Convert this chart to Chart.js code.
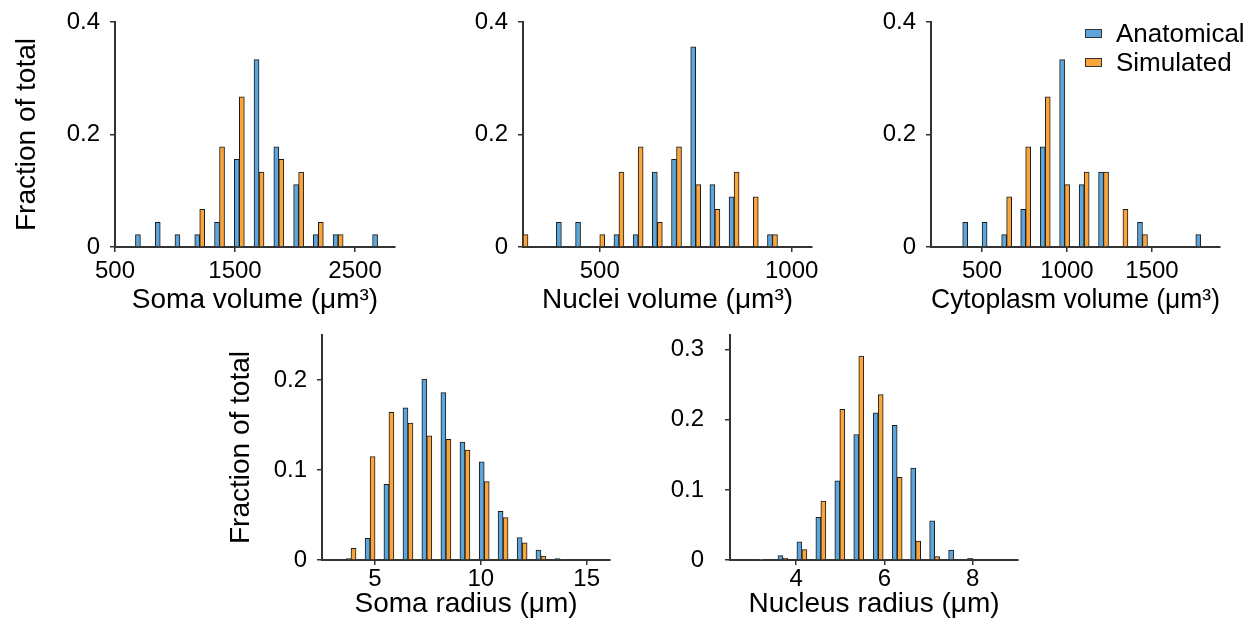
<!DOCTYPE html>
<html>
<head>
<meta charset="utf-8">
<script src="https://cdn.jsdelivr.net/npm/chart.js@4.4.1/dist/chart.umd.min.js"></script>
<style>
body { margin: 0; background: #fff; }
#wrap { position: relative; width: 1257px; height: 621px; overflow: hidden; font-family: "Liberation Sans", Arial, sans-serif; }
canvas { position: absolute; }
.lg { position: absolute; left: 1085px; height: 30px; display: flex; align-items: center; font-size: 26px; color: #000; white-space: nowrap; }
.lg span.box { display: inline-block; width: 15px; height: 7px; border: 1px solid #333; margin-right: 14px; }
</style>
</head>
<body>
<div id="wrap">
  <canvas id="c1"></canvas>
  <canvas id="c2"></canvas>
  <canvas id="c3"></canvas>
  <canvas id="c4"></canvas>
  <canvas id="c5"></canvas>
  <div id="legend"></div>
</div>
<script>
// series names
var seriesNames = ['Anatomical', 'Simulated'];

// soma volume
var somaVolBins   = [712, 877, 1041, 1206, 1371, 1536, 1700, 1865, 2030, 2194, 2359, 2688];
var somaVolAnat   = [0.022, 0.044, 0.022, 0.022, 0.044, 0.156, 0.333, 0.178, 0.111, 0.022, 0.022, 0.022];
var somaVolSim    = [0, 0, 0, 0.067, 0.178, 0.267, 0.133, 0.156, 0.133, 0.044, 0.022, 0];
var somaVolTicks  = [500, 1500, 2500];
var somaVolLabels = ['500', '1500', '2500'];

// nuclei volume
var nucVolBins   = [300, 400, 450, 500, 550, 600, 650, 700, 750, 800, 850, 900, 950];
var nucVolAnat   = [0, 0.044, 0.044, 0, 0.022, 0.022, 0.133, 0.156, 0.356, 0.111, 0.089, 0, 0.022];
var nucVolSim    = [0.022, 0, 0, 0.022, 0.133, 0.178, 0.044, 0.178, 0.111, 0.067, 0.133, 0.089, 0.022];
var nucVolTicks  = [500, 1000];
var nucVolLabels = ['500', '1000'];

// cytoplasm volume
var cytVolBins   = [416, 530, 645, 757, 872, 986, 1101, 1215, 1329, 1444, 1787];
var cytVolAnat   = [0.044, 0.044, 0.022, 0.067, 0.178, 0.333, 0.111, 0.133, 0, 0.044, 0.022];
var cytVolSim    = [0, 0, 0.089, 0.178, 0.267, 0.111, 0.133, 0.133, 0.067, 0.022, 0];
var cytVolTicks  = [500, 1000, 1500];
var cytVolLabels = ['500', '1000', '1500'];

var volYTicks  = [0, 0.2, 0.4];
var volYLabels = ['0', '0.2', '0.4'];

// soma radius
var somaRadBins   = [3.87, 4.77, 5.66, 6.56, 7.45, 8.35, 9.25, 10.16, 11.05, 11.95, 12.84, 13.74];
var somaRadAnat   = [0.0015, 0.024, 0.084, 0.169, 0.201, 0.186, 0.131, 0.109, 0.054, 0.025, 0.011, 0.0015];
var somaRadSim    = [0.013, 0.115, 0.164, 0.152, 0.138, 0.134, 0.122, 0.087, 0.047, 0.019, 0.0044, 0.0008];
var somaRadTicks  = [5, 10, 15];
var somaRadLabels = ['5', '10', '15'];
var somaRadYTicks  = [0, 0.1, 0.2];
var somaRadYLabels = ['0', '0.1', '0.2'];

// nucleus radius
var nucRadBins   = [3.27, 3.70, 4.13, 4.56, 4.99, 5.42, 5.86, 6.29, 6.71, 7.14, 7.57, 8.0];
var nucRadAnat   = [0.0005, 0.0062, 0.026, 0.061, 0.113, 0.179, 0.210, 0.192, 0.131, 0.056, 0.014, 0.0024];
var nucRadSim    = [0, 0.0024, 0.0148, 0.084, 0.215, 0.291, 0.236, 0.118, 0.027, 0.0048, 0, 0];
var nucRadTicks  = [4, 6, 8];
var nucRadLabels = ['4', '6', '8'];
var nucRadYTicks  = [0, 0.1, 0.2, 0.3];
var nucRadYLabels = ['0', '0.1', '0.2', '0.3'];

var BLUE = '#5DA5DA', ORANGE = '#FAA43A', EDGE = '#1a1a1a', AX = '#333333';
var FONT = '"Liberation Sans", Arial, Helvetica, sans-serif';

function histo(id, p) {
  var cv = document.getElementById(id);
  var padR = p.padR || 15;
  cv.width = 115 + (p.right - p.left) + padR;
  cv.height = p.h;
  cv.style.left = (p.left - 115) + 'px';
  cv.style.top = p.top + 'px';
  var axisH = p.h - 22 - 225;
  function pts(ys) { return p.bins.map(function (b, i) { return {x: b, y: ys[i]}; }); }

  new Chart(cv, {
    type: 'bar',
    data: {
      datasets: [
        {label: seriesNames[0], data: pts(p.anat), backgroundColor: BLUE, borderColor: EDGE, borderWidth: 1, barThickness: 5},
        {label: seriesNames[1], data: pts(p.sim), backgroundColor: ORANGE, borderColor: EDGE, borderWidth: 1, barThickness: 5}
      ]
    },
    options: {
      responsive: false,
      animation: false,
      devicePixelRatio: 1,
      layout: {padding: {left: 0, top: 22, right: padR, bottom: 0}},
      plugins: {legend: {display: false}, tooltip: {enabled: false}},
      scales: {
        x: {
          type: 'linear', min: p.xMin, max: p.xMax, offset: false,
          grid: {offset: false, drawOnChartArea: false, tickLength: 5, color: AX, lineWidth: 1.5},
          border: {color: AX, width: 2},
          afterBuildTicks: function (s) { s.ticks = p.xTicks.map(function (v) { return {value: v}; }); },
          ticks: {
            font: {family: FONT, size: 24}, color: '#000', padding: p.xPad, maxRotation: 0, autoSkip: false,
            callback: function (v) { return p.xLabels[p.xTicks.indexOf(v)]; }
          },
          title: {display: true, text: p.xTitle, color: '#000', font: {family: FONT, size: 28}, padding: {top: 0, bottom: p.xtPad}},
          afterFit: function (s) { s.height = axisH; s.paddingLeft = 0; s.paddingRight = 0; }
        },
        y: {
          min: 0, max: p.yMax,
          grid: {drawOnChartArea: false, tickLength: 5, color: AX, lineWidth: 1.5},
          border: {color: AX, width: 2},
          afterBuildTicks: function (s) { s.ticks = p.yTicks.map(function (v) { return {value: v}; }); },
          ticks: {
            font: {family: FONT, size: 24}, color: '#000', padding: p.yPad,
            callback: function (v) { return p.yLabels[p.yTicks.indexOf(v)]; }
          },
          title: {display: !!p.yTitle, text: p.yTitle || '', color: '#000', font: {family: FONT, size: 28}, padding: {top: p.ytPad || 0, bottom: 0}},
          afterFit: function (s) { s.width = 115; s.paddingTop = 0; s.paddingBottom = 0; }
        }
      }
    }
  });
}

histo('c1', {left: 115, right: 395, top: 0, h: 320, padR: 5,
  bins: somaVolBins, anat: somaVolAnat, sim: somaVolSim, xMin: 500, xMax: 2833,
  xTicks: somaVolTicks, xLabels: somaVolLabels, yMax: 0.4, yTicks: volYTicks, yLabels: volYLabels,
  xTitle: 'Soma volume (μm³)', yTitle: 'Fraction of total', xPad: 5, xtPad: 3, yPad: 10, ytPad: 10});

histo('c2', {left: 523, right: 812, top: 0, h: 320, padR: 15,
  bins: nucVolBins, anat: nucVolAnat, sim: nucVolSim, xMin: 300, xMax: 1053,
  xTicks: nucVolTicks, xLabels: nucVolLabels, yMax: 0.4, yTicks: volYTicks, yLabels: volYLabels,
  xTitle: 'Nuclei volume (μm³)', xPad: 5, xtPad: 3, yPad: 10});

histo('c3', {left: 931, right: 1220, top: 0, h: 320, padR: 37,
  bins: cytVolBins, anat: cytVolAnat, sim: cytVolSim, xMin: 200, xMax: 1900,
  xTicks: cytVolTicks, xLabels: cytVolLabels, yMax: 0.4, yTicks: volYTicks, yLabels: volYLabels,
  xTitle: 'Cytoplasm volume (μm³)', xPad: 5, xtPad: 3, yPad: 10});

histo('c4', {left: 322, right: 610, top: 313, h: 308, padR: 5,
  bins: somaRadBins, anat: somaRadAnat, sim: somaRadSim, xMin: 2.5, xMax: 16.1,
  xTicks: somaRadTicks, xLabels: somaRadLabels, yMax: 0.25, yTicks: somaRadYTicks, yLabels: somaRadYLabels,
  xTitle: 'Soma radius (μm)', yTitle: 'Fraction of total', xPad: 0, xtPad: 0, yPad: 10, ytPad: 17});

histo('c5', {left: 730, right: 1018, top: 313, h: 308, padR: 5,
  bins: nucRadBins, anat: nucRadAnat, sim: nucRadSim, xMin: 2.5, xMax: 9.03,
  xTicks: nucRadTicks, xLabels: nucRadLabels, yMax: 0.321, yTicks: nucRadYTicks, yLabels: nucRadYLabels,
  xTitle: 'Nucleus radius (μm)', xPad: 0, xtPad: 0, yPad: 21});

// legend
var lg = document.getElementById('legend');
[BLUE, ORANGE].forEach(function (c, i) {
  var d = document.createElement('div');
  d.className = 'lg';
  d.style.top = (18 + i * 29) + 'px';
  d.innerHTML = '<span class="box" style="background:' + c + '"></span>' + seriesNames[i];
  lg.appendChild(d);
});
</script>
</body>
</html>
